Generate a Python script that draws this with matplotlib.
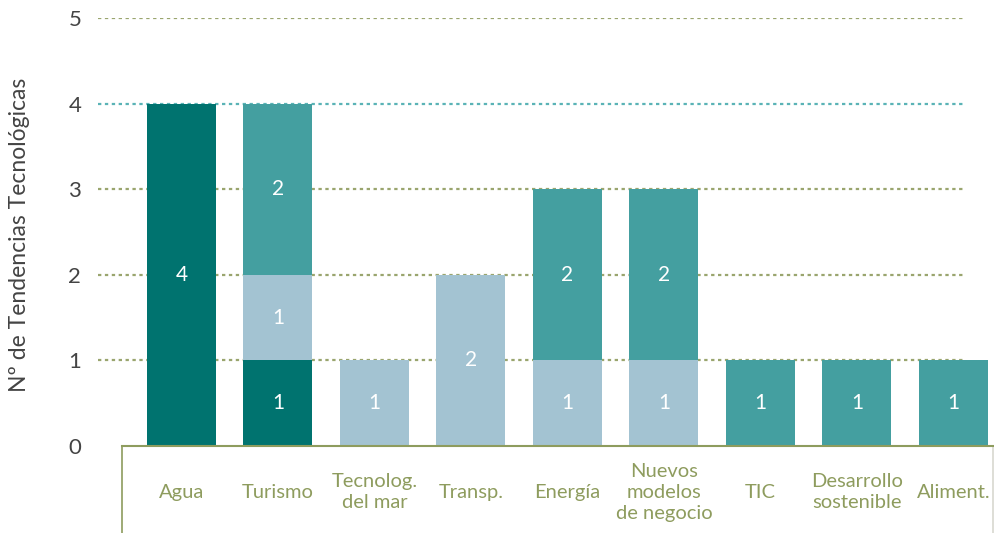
import numpy as np
import matplotlib
matplotlib.use('Agg')
import matplotlib.pyplot as plt

plt.rcParams['font.family'] = ['Lato', 'DejaVu Sans']

categories = ['Agua', 'Turismo', 'Tecnolog.\ndel mar', 'Transp.', 'Energía',
              'Nuevos\nmodelos\nde negocio', 'TIC', 'Desarrollo\nsostenible', 'Aliment.']
dark = [4, 1, 0, 0, 0, 0, 0, 0, 0]
light = [0, 1, 1, 2, 1, 1, 0, 0, 0]
medium = [0, 2, 0, 0, 2, 2, 1, 1, 1]
yticks = [0, 1, 2, 3, 4, 5]

c_dark = '#00736F'
c_light = '#A3C3D2'
c_medium = '#449FA0'
olive = '#8E9C5E'

fig = plt.figure(figsize=(9.94, 5.33), dpi=100)
ax = fig.add_axes([98 / 994, 87 / 533, 896 / 994, 428 / 533])

x = np.arange(len(categories))
w = 0.715
bottom = np.zeros(len(categories))
for vals, col in [(dark, c_dark), (light, c_light), (medium, c_medium)]:
    vals = np.array(vals, dtype=float)
    ax.bar(x, vals, w, bottom=bottom, color=col, zorder=3)
    for xi, v, b in zip(x, vals, bottom):
        if v > 0:
            ax.text(xi, b + v / 2, f'{int(v)}', ha='center', va='center',
                    color='white', fontsize=15, zorder=4)
    bottom += vals

# dotted guide lines
for t in yticks[1:]:
    ax.hlines(t, -0.865, 8.11, colors='#5AB3B6' if t == 4 else '#9AA56E',
              linestyles=(0, (1.5, 1.6)), lw=1.6, zorder=1)

# box below the bars
ax.plot([-0.617, 8.41], [0, 0], color=olive, lw=1.5, clip_on=False, zorder=5)
ax.plot([-0.617, -0.617], [0, -1.02], color=olive, lw=1.2, clip_on=False)
ax.plot([8.41, 8.41], [0, -1.02], color='#D8D8D0', lw=1.2, clip_on=False)

for xi, lab in zip(x, categories):
    ax.text(xi, -0.54, lab, ha='center', va='center', color=olive,
            fontsize=14.5, linespacing=1.3)

ax.set_xlim(-0.865, 8.42)
ax.set_ylim(0, 5)
ax.set_xticks([])
ax.set_yticks(yticks)
ax.tick_params(axis='y', length=0, pad=12, labelsize=16, labelcolor='#444444')
for s in ax.spines.values():
    s.set_visible(False)

fig.text(20 / 994, 1 - 235 / 533, 'Nº de Tendencias Tecnológicas', rotation=90,
         ha='center', va='center', fontsize=16.5, color='#444444')

fig.savefig('out.png', dpi=100)
